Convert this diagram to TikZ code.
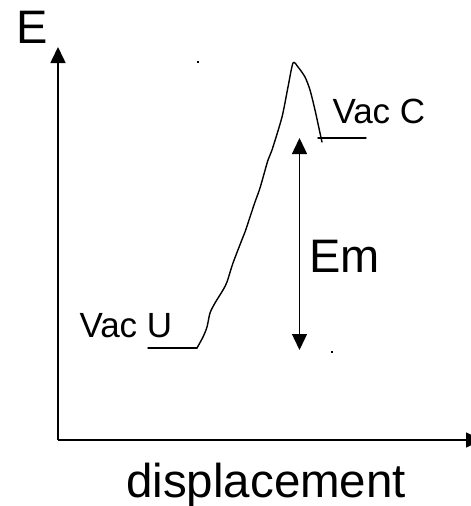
\documentclass[tikz,border=0pt]{standalone}
\usepackage{fontspec}
\setmainfont{Liberation Sans}
\usetikzlibrary{arrows.meta}
\begin{document}
\begin{tikzpicture}[x=1pt,y=-1pt,
  axis/.style={line width=1.6pt,-{Triangle[length=16pt,width=15pt]}},
  curveline/.style={line width=1.4pt,line join=round,line cap=round},
  lbl/.style={anchor=base west,inner sep=0pt,outer sep=0pt},
  bigtxt/.style={font=\fontsize{47}{51}\selectfont},
  dtxt/.style={font=\fontsize{47.5}{51}\selectfont},
  smalltxt/.style={font=\fontsize{35}{38}\selectfont}]
\useasboundingbox (0,0) rectangle (471,506);
% axes
\coordinate (O) at (58,440);
\coordinate (Ytop) at (58,47);
\coordinate (Xend) at (482,440);
\draw[axis] (O) -- (Ytop);
\draw[axis] (O) -- (Xend);
% labels
\node[lbl,bigtxt] (E) at (16.2,43.5) {E};
\node[lbl,dtxt] (disp) at (126.2,497.5) {displacement};
\node[lbl,smalltxt] (vacu) at (79.5,337) {Vac U};
\node[lbl,smalltxt] (vacc) at (332.5,123) {Vac C};
\node[lbl,bigtxt] (em) at (309.3,272) {Em};
% levels
\coordinate (U1) at (148,348);
\coordinate (U2) at (197,348);
\coordinate (C1) at (318,138);
\coordinate (C2) at (366,138);
\draw[curveline] (U1) -- (U2);
\draw[curveline] (C1) -- (C2);
% energy curve
\draw[curveline] plot[smooth,tension=0.45] coordinates {
 (197,348) (203,337) (207,327) (210,313) (215,303) (223,290) (227,282)
 (233,263) (243,237) (245,232) (250,217) (255,202) (260,188) (268,160)
 (272,150) (282,117) (288,87) (293,63) (298,67) (305,77) (310,90)
 (315,110) (320,133) (322,142)};
% Em arrow
\coordinate (EmTop) at (299.5,138);
\coordinate (EmBot) at (299.5,350);
\draw[line width=1.4pt,{Triangle[length=16pt,width=15pt]}-{Triangle[length=16pt,width=15pt]}] (EmTop) -- (EmBot);
% stray dots
\fill (196.5,61) rectangle (198.5,63);
\fill (331,351) rectangle (333,353);
\end{tikzpicture}
\end{document}
